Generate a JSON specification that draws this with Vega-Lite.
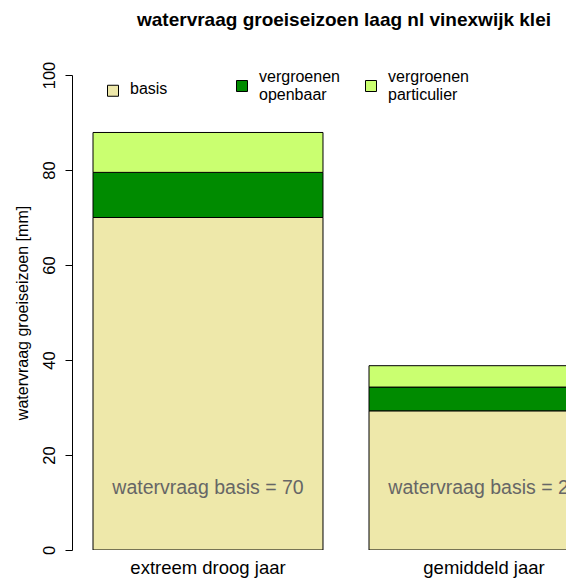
{
  "$schema": "https://vega.github.io/schema/vega-lite/v6.json",
  "autosize": "none",
  "width": 494,
  "height": 475,
  "padding": {"left": 72, "top": 75, "right": 0, "bottom": 34},
  "background": "white",
  "config": {
    "font": "Liberation Sans",
    "view": {"stroke": null}
  },
  "title": {
    "text": "watervraag groeiseizoen laag nl vinexwijk klei",
    "font": "Liberation Sans",
    "fontSize": 19,
    "fontWeight": "bold",
    "color": "black",
    "anchor": "middle",
    "frame": "group",
    "dx": 25,
    "offset": 31
  },
  "datasets": {
    "bars": [
      {"jaar": "extreem droog jaar", "component": "basis", "mm": 70},
      {"jaar": "extreem droog jaar", "component": "vergroenen openbaar", "mm": 9.5},
      {"jaar": "extreem droog jaar", "component": "vergroenen particulier", "mm": 8.4},
      {"jaar": "gemiddeld jaar", "component": "basis", "mm": 29.3},
      {"jaar": "gemiddeld jaar", "component": "vergroenen openbaar", "mm": 5},
      {"jaar": "gemiddeld jaar", "component": "vergroenen particulier", "mm": 4.5}
    ],
    "labels": [
      {"jaar": "extreem droog jaar", "tekst": "watervraag basis = 70"},
      {"jaar": "gemiddeld jaar", "tekst": "watervraag basis = 29"}
    ]
  },
  "layer": [
    {
      "data": {"name": "bars"},
      "mark": {"type": "bar", "stroke": "black", "strokeWidth": 1, "clip": true},
      "encoding": {
        "x": {
          "field": "jaar",
          "type": "nominal",
          "scale": {"range": [21, 527], "paddingInner": 0.16667, "paddingOuter": 0},
          "axis": {
            "title": null,
            "domain": false,
            "ticks": false,
            "labelAngle": 0,
            "labelFontSize": 18.5,
            "labelColor": "black",
            "labelPadding": 8,
            "labelFont": "Liberation Sans"
          }
        },
        "y": {
          "field": "mm",
          "type": "quantitative",
          "stack": "zero",
          "scale": {"domain": [0, 100], "nice": false},
          "axis": {
            "title": "watervraag groeiseizoen [mm]",
            "titleFontSize": 16,
            "titleFontWeight": "normal",
            "titleColor": "black",
            "titleFont": "Liberation Sans",
            "titlePadding": 11,
            "values": [0, 20, 40, 60, 80, 100],
            "grid": false,
            "domainColor": "black",
            "tickColor": "black",
            "tickSize": 7,
            "labelAngle": -90,
            "labelAlign": "center",
            "labelBaseline": "bottom",
            "labelPadding": 8,
            "labelFontSize": 16.5,
            "labelColor": "black",
            "labelFont": "Liberation Sans"
          }
        },
        "order": {"field": "component", "type": "nominal", "sort": "ascending"},
        "color": {
          "field": "component",
          "type": "nominal",
          "scale": {
            "domain": ["basis", "vergroenen openbaar", "vergroenen particulier"],
            "range": ["#EEE8AA", "#008B00", "#CAFF70"]
          },
          "legend": {
            "title": null,
            "orient": "none",
            "legendX": 33,
            "legendY": 3,
            "direction": "horizontal",
            "columns": 3,
            "gridAlign": "all",
            "padding": 0,
            "symbolType": "square",
            "symbolSize": 121,
            "symbolStrokeColor": "black",
            "symbolStrokeWidth": 1,
            "symbolOpacity": 1,
            "labelFontSize": 16,
            "labelFont": "Liberation Sans",
            "labelColor": "black",
            "labelOffset": 9,
            "labelLimit": 200,
            "columnPadding": 23,
            "labelExpr": "datum.label == 'basis' ? 'basis' : split(datum.label, ' ')",
            "encode": {
              "labels": {
                "update": {
                  "baseline": {"signal": "datum.value == 'basis' ? 'middle' : 'line-bottom'"},
                  "dy": {"signal": "datum.value == 'basis' ? -2 : 0"}
                }
              }
            }
          }
        }
      }
    },
    {
      "data": {"name": "labels"},
      "mark": {"type": "text", "fontSize": 19.5, "color": "#666666", "font": "Liberation Sans", "clip": true, "baseline": "middle"},
      "encoding": {
        "x": {"field": "jaar", "type": "nominal"},
        "y": {"datum": 13, "type": "quantitative"},
        "text": {"field": "tekst"}
      }
    }
  ]
}
